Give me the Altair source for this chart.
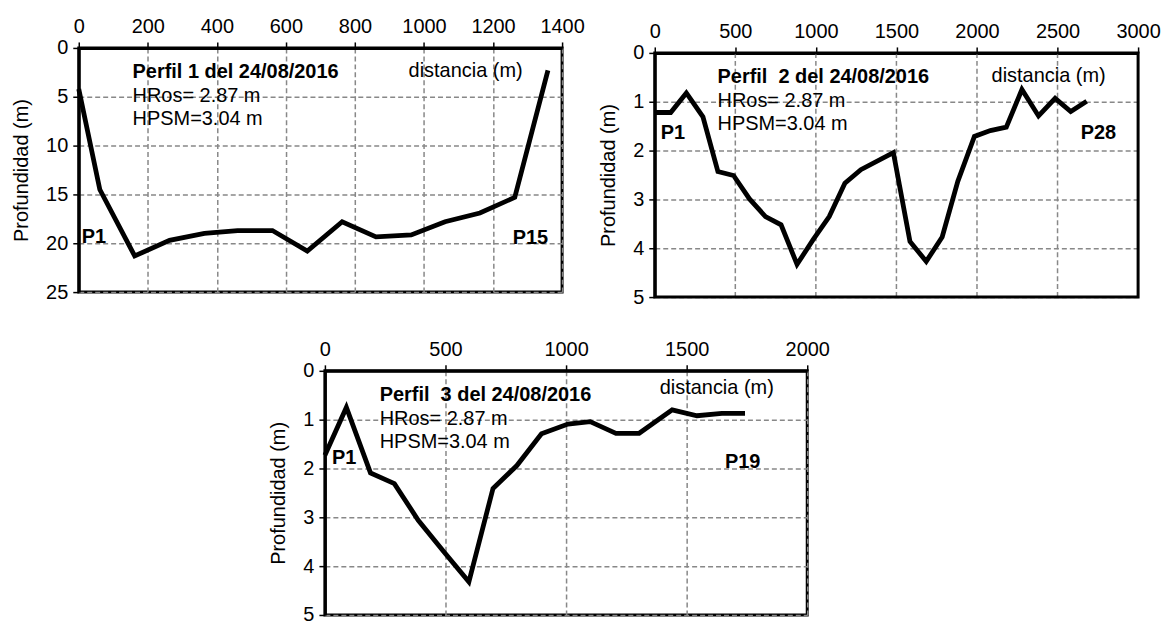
import altair as alt
import pandas as pd

FONT = "Liberation Sans"

# ---- Data ----
p1_dist = [0, 61, 162, 263, 364, 460, 561, 662, 763, 861, 963, 1061, 1162, 1263, 1359]
p1_depth = [4.2, 14.5, 21.3, 19.7, 19.0, 18.7, 18.7, 20.8, 17.8, 19.35, 19.15, 17.8, 16.9, 15.3, 2.3]

p2_dist = [0, 99, 196, 299, 392, 489, 588, 687, 784, 883, 984, 1083, 1180, 1279,
           1481, 1584, 1685, 1784, 1881, 1984, 2083, 2182, 2279, 2382, 2485, 2582, 2681]
p2_depth = [1.22, 1.22, 0.82, 1.31, 2.43, 2.51, 2.99, 3.35, 3.52, 4.33, 3.82, 3.35, 2.67, 2.39,
            2.04, 3.86, 4.27, 3.77, 2.63, 1.71, 1.59, 1.52, 0.75, 1.29, 0.93, 1.20, 0.99]

p3_dist = [0, 89, 189, 288, 387, 494, 597, 697, 796, 898, 1008, 1100, 1207, 1303, 1440, 1543, 1646, 1742]
p3_depth = [1.73, 0.75, 2.09, 2.31, 3.06, 3.71, 4.32, 2.41, 1.94, 1.29, 1.09, 1.04, 1.28, 1.28, 0.80, 0.92, 0.87, 0.87]

p1_xticks = [0, 200, 400, 600, 800, 1000, 1200, 1400]
p1_yticks = [0, 5, 10, 15, 20, 25]
p2_xticks = [0, 500, 1000, 1500, 2000, 2500, 3000]
p2_yticks = [0, 1, 2, 3, 4, 5]
p3_xticks = [0, 500, 1000, 1500, 2000]
p3_yticks = [0, 1, 2, 3, 4, 5]

perfil_titles = ["Perfil 1 del 24/08/2016", "Perfil\u00a0 2 del 24/08/2016", "Perfil\u00a0 3 del 24/08/2016"]
info_lines = ["HRos= 2.87 m", "HPSM=3.04 m"]
x_label = "distancia (m)"
y_title = "Profundidad (m)"
start_labels = ["P1", "P1", "P1"]
end_labels = ["P15", "P28", "P19"]

ONE = pd.DataFrame({"k": [0]})
PLOT_H = 245


def txt(text, x, y, bold=False, align="left"):
    return alt.Chart(ONE).mark_text(
        text=text, font=FONT, fontSize=20, color="black",
        fontWeight="bold" if bold else "normal", align=align, baseline="alphabetic"
    ).encode(x=alt.value(x), y=alt.value(y))


def panel(dist, depth, xticks, yticks, width, idx, pos, shift=0):
    """shift: vertical offset (px) of the plot frame inside its cell."""
    df = pd.DataFrame({"d": dist, "p": depth})
    if shift:
        yscale = alt.Scale(domain=[yticks[0], yticks[-1]], range=[shift, shift + PLOT_H], nice=False)
        xaxis = alt.Axis(orient="top", values=xticks, title=None, format="d",
                         labelPadding=5, labelFlush=False, offset=-shift, grid=False)
    else:
        yscale = alt.Scale(domain=[yticks[0], yticks[-1]], reverse=True, nice=False)
        xaxis = alt.Axis(orient="top", values=xticks, title=None, format="d",
                         labelPadding=5, labelFlush=False)
    line = alt.Chart(df).mark_line(color="black", strokeWidth=4.8, strokeJoin="miter").encode(
        x=alt.X("d:Q", scale=alt.Scale(domain=[xticks[0], xticks[-1]], nice=False, zero=False),
                axis=xaxis),
        y=alt.Y("p:Q", scale=yscale,
                axis=alt.Axis(values=yticks, title=y_title, format="d", labelPadding=5,
                              titlePadding=14)),
        order="d:Q",
    )
    layers = []
    if shift:
        grid = alt.Chart(pd.DataFrame({"g": xticks[1:-1]})).mark_rule(
            color="#888888", strokeWidth=1.5, strokeDash=[5, 3]
        ).encode(x="g:Q", y=alt.value(shift), y2=alt.value(shift + PLOT_H))
        frame = alt.Chart(ONE).mark_rect(
            fillOpacity=0, stroke="black", strokeWidth=3
        ).encode(x=alt.value(0), x2=alt.value(width), y=alt.value(shift),
                 y2=alt.value(shift + PLOT_H))
        layers += [grid]
    layers += [
        line,
        txt(perfil_titles[idx], pos["tx"], shift + pos["ty"], bold=True),
        txt(info_lines[0], pos["tx"], shift + pos["ty"] + 24),
        txt(info_lines[1], pos["tx"], shift + pos["ty"] + 47),
        txt(x_label, pos["dx"], shift + pos["dy"]),
        txt(start_labels[idx], pos["sx"], shift + pos["sy"], bold=True),
        txt(end_labels[idx], pos["ex"], shift + pos["ey"], bold=True, align="right"),
    ]
    if shift:
        layers.append(frame)
        return alt.layer(*layers).properties(
            width=width, height=PLOT_H + shift, view=alt.ViewBackground(strokeOpacity=0))
    return alt.layer(*layers).properties(width=width, height=PLOT_H)


c1 = panel(p1_dist, p1_depth, p1_xticks, p1_yticks, 485, 0,
           dict(tx=54, ty=30, dx=331, dy=29, sx=3, sy=196, ex=471, ey=197))
c2 = panel(p2_dist, p2_depth, p2_xticks, p2_yticks, 485, 1,
           dict(tx=63, ty=30, dx=338, dy=29, sx=6, sy=86, ex=463, ey=86), shift=5)
c3 = panel(p3_dist, p3_depth, p3_xticks, p3_yticks, 484, 2,
           dict(tx=55, ty=30, dx=336, dy=23, sx=7, sy=94, ex=437, ey=98))

spacer = alt.Chart(ONE).mark_text(text="").encode(
    x=alt.value(0), y=alt.value(0)
).properties(width=179, height=10, view=alt.ViewBackground(strokeOpacity=0))

top = alt.hconcat(c1, c2, spacing=12)
bottom = alt.hconcat(spacer, c3, spacing=10)

chart = alt.vconcat(top, bottom, spacing=31).properties(
    padding={"left": 2, "top": 6, "right": 5, "bottom": 0}
).configure_view(
    stroke="black", strokeWidth=3
).configure_axis(
    labelFont=FONT, labelFontSize=20, labelColor="black",
    titleFont=FONT, titleFontSize=20, titleColor="black", titleFontWeight="normal",
    domainColor="black", domainWidth=3,
    tickColor="black", tickWidth=1.5, tickSize=6,
    grid=True, gridColor="#888888", gridDash=[5, 3], gridWidth=1.5,
).configure_title(font=FONT)

chart.save("out.html", embed_options={"renderer": "svg", "actions": False})
